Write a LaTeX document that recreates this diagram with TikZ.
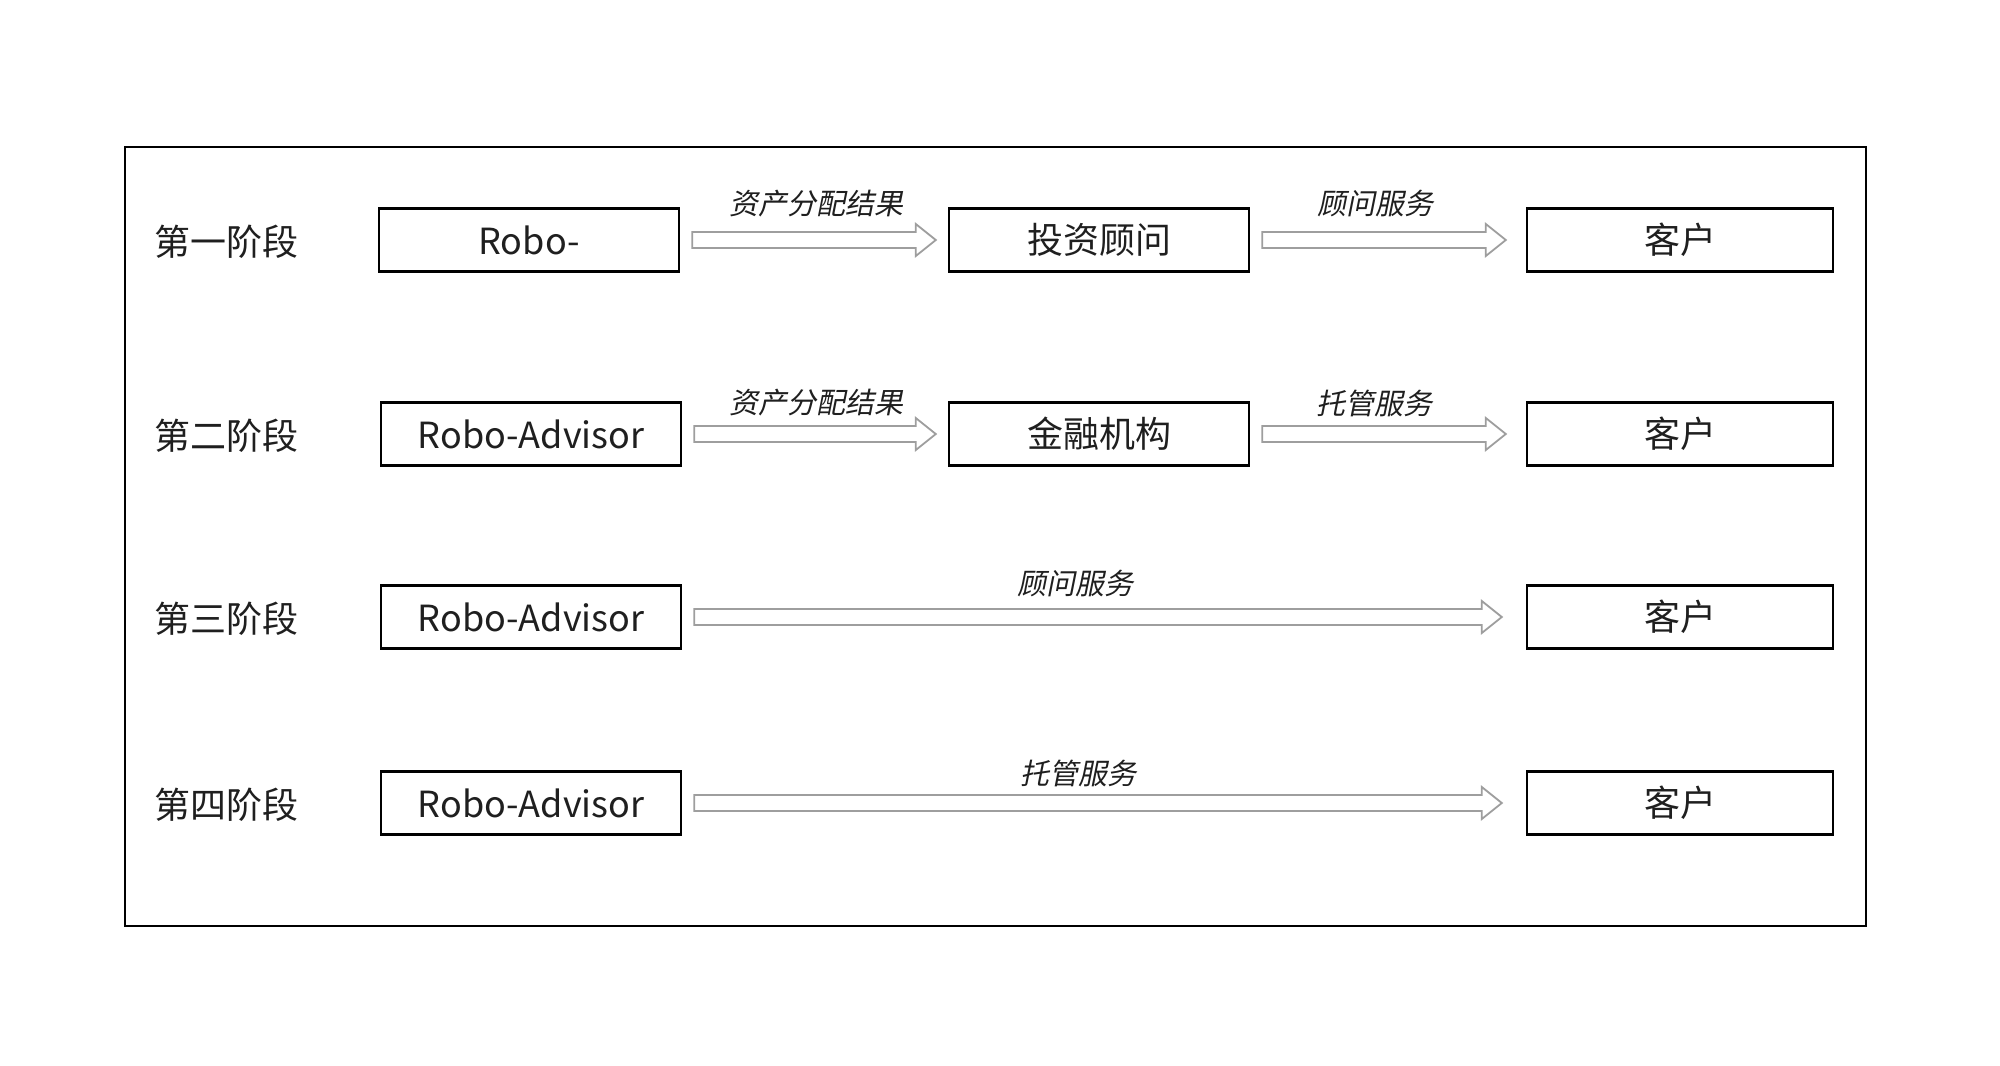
\documentclass[tikz,border=0pt]{standalone}
\usepackage{fontspec}
\setmainfont{Noto Sans CJK SC}
\newfontfamily\slcjk[FakeSlant=0.2]{Noto Sans CJK SC}
\usetikzlibrary{calc}
\tikzset{
  box/.style={draw=black, line width=1.2pt, minimum width=150pt, minimum height=31.5pt, inner sep=0pt, font=\fontsize{18}{20}\selectfont, text=black!88},
  cbox/.style={box, minimum width=153pt},
  stage/.style={anchor=west, font=\fontsize{18}{20}\selectfont, inner sep=0pt, text=black!88},
  lbl/.style={font=\slcjk\fontsize{14.5}{16}\selectfont, inner sep=0pt, text=black!88},
  barrow/.style={draw=black!38, line width=0.9pt, fill=white, line join=miter},
  frame/.style={draw=black, line width=1.2pt}
}
\newcommand\blockarr[3][8pt]{%
  \draw[barrow] let \p1=($(#2.east)+(6pt,0)$), \p2=($(#3.west)-(#1,0)$) in
   (\x1,\y1+4pt) -- (\x2-10pt,\y1+4pt) -- (\x2-10pt,\y1+8pt) -- (\x2,\y1)
   -- (\x2-10pt,\y1-8pt) -- (\x2-10pt,\y1-4pt) -- (\x1,\y1-4pt) -- cycle;}
\begin{document}
\begin{tikzpicture}[x=0.5pt,y=-0.5pt]
\useasboundingbox (0,0) rectangle (2000,1065);
\draw[frame] (125,147) rectangle (1866,926);
% stage labels
\node[stage] (s1) at (154,242) {第一阶段};
\node[stage] (s2) at (154,436) {第二阶段};
\node[stage] (s3) at (154,619) {第三阶段};
\node[stage] (s4) at (154,805) {第四阶段};
% row 1
\node[box] (a1) at (529,240) {Robo-};
\node[box] (b1) at (1099,240) {投资顾问};
\node[cbox] (c1) at (1680,240) {客户};
% row 2
\node[box] (a2) at (531,434) {Robo-Advisor};
\node[box] (b2) at (1099,434) {金融机构};
\node[cbox] (c2) at (1680,434) {客户};
% row 3
\node[box] (a3) at (531,617) {Robo-Advisor};
\node[cbox] (c3) at (1680,617) {客户};
% row 4
\node[box] (a4) at (531,803) {Robo-Advisor};
\node[cbox] (c4) at (1680,803) {客户};
% arrows
\blockarr[6pt]{a1}{b1}
\blockarr[10pt]{b1}{c1}
\blockarr[6pt]{a2}{b2}
\blockarr[10pt]{b2}{c2}
\blockarr[12pt]{a3}{c3}
\blockarr[12pt]{a4}{c4}
% arrow labels
\node[lbl] (l1a) at (816,204) {资产分配结果};
\node[lbl] (l1b) at (1375,204) {顾问服务};
\node[lbl] (l2a) at (816,403) {资产分配结果};
\node[lbl] (l2b) at (1374,403) {托管服务};
\node[lbl] (l3) at (1075,584) {顾问服务};
\node[lbl] (l4) at (1078,773) {托管服务};
\end{tikzpicture}
\end{document}
